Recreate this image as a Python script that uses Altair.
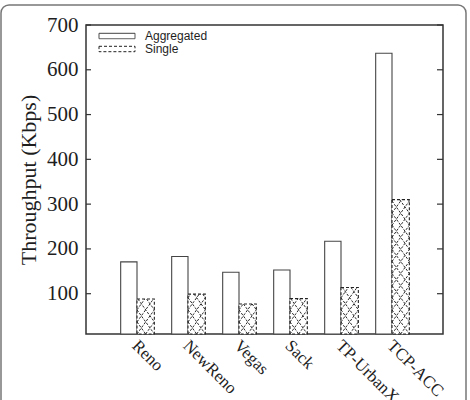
import json
import math
import altair as alt
import pandas as pd

# ---------------- data ----------------
categories = ["Reno", "NewReno", "Vegas", "Sack", "TP-UrbanX", "TCP-ACC"]
aggregated = [171, 183, 148, 153, 217, 637]
single = [88, 99, 77, 89, 114, 310]
series_names = ["Aggregated", "Single"]
y_ticks = [100, 200, 300, 400, 500, 600, 700]

# ---------------- layout constants ----------------
Y_MIN, Y_MAX = 10, 700
PLOT_W, PLOT_H = 357, 309
AGG_W, SGL_W = 0.32, 0.34
HATCH_H = 27.0  # y units per hatch cell

SERIF = "Liberation Serif"
SANS = "Liberation Sans"
INK = "#1e1e1e"

# bar table (derived)
rows = []
for i, c in enumerate(categories):
    pos = i + 1
    rows.append(dict(cat=c, series="Aggregated", x0=pos - AGG_W, x1=pos, y0=Y_MIN, y1=aggregated[i]))
    rows.append(dict(cat=c, series="Single", x0=pos, x1=pos + SGL_W, y0=Y_MIN, y1=single[i]))
bars = pd.DataFrame(rows)

# crosshatch segments for the "Single" bars (derived from the values)
segs = []
cell_w = SGL_W / 2
m = HATCH_H / cell_w
for i, v in enumerate(single):
    x0 = i + 1
    Hb = v - Y_MIN
    n = int(math.ceil(Hb / HATCH_H))
    for k in range(-4, n + 5):
        lo = max(0.0, (-k * HATCH_H) / m)
        hi = min(SGL_W, (Hb - k * HATCH_H) / m)
        if hi - lo > 1e-6:
            segs.append(dict(xa=x0 + lo, ya=Y_MIN + k * HATCH_H + m * lo,
                             xb=x0 + hi, yb=Y_MIN + k * HATCH_H + m * hi))
        lo = max(0.0, (k * HATCH_H - Hb) / m)
        hi = min(SGL_W, (k * HATCH_H) / m)
        if hi - lo > 1e-6:
            segs.append(dict(xa=x0 + lo, ya=Y_MIN + k * HATCH_H - m * lo,
                             xb=x0 + hi, yb=Y_MIN + k * HATCH_H - m * hi))
hatch = pd.DataFrame(segs)

ticks_df = pd.DataFrame({"t": y_ticks})

label_expr = "%s[datum.value - 1]" % json.dumps(categories)

x_scale = alt.Scale(domain=[0, len(categories) + 1], nice=False, zero=False)
y_scale = alt.Scale(domain=[Y_MIN, Y_MAX], nice=False, zero=False)

x_axis = alt.Axis(
    values=list(range(1, len(categories) + 1)), labelExpr=label_expr,
    labelAngle=45, labelAlign="left", labelBaseline="top",
    labelFont=SERIF, labelFontSize=17, labelColor=INK, labelPadding=3, labelOffset=3,
    labelFlush=False, labelOverlap=False,
    ticks=False, domain=False, grid=False, title=None,
)
y_axis = alt.Axis(
    values=y_ticks, labelFont=SERIF, labelFontSize=21, labelColor=INK,
    labelPadding=8, labelFlush=False, ticks=False, tickSize=0, domain=False, grid=False,
    title="Throughput (Kbps)", titleFont=SERIF, titleFontSize=22,
    titleFontWeight="normal", titleColor=INK, titlePadding=6,
)

legend = alt.Legend(
    title=None, orient="none", legendX=25, legendY=5,
    symbolType="M-6,-0.9H6V0.9H-6Z", symbolSize=36,
    symbolStrokeWidth=1, symbolFillColor="white",
    labelFont=SANS, labelFontSize=12, labelColor=INK, labelOffset=22,
    rowPadding=1, padding=0,
)

frame = alt.Chart(pd.DataFrame({"a": [0]})).mark_rect(
    fillOpacity=0, stroke="#777777", strokeWidth=1.5, cornerRadius=8
).encode(x=alt.value(-85), x2=alt.value(380), y=alt.value(-20), y2=alt.value(392))

bar_layer = alt.Chart(bars).mark_bar(fill="white", strokeWidth=1.1).encode(
    x=alt.X("x0:Q", scale=x_scale, axis=x_axis),
    x2="x1:Q",
    y=alt.Y("y0:Q", scale=y_scale, axis=y_axis),
    y2="y1:Q",
    stroke=alt.Stroke("series:N",
                      scale=alt.Scale(domain=series_names, range=["#444444", "#222222"]),
                      legend=legend),
    strokeDash=alt.StrokeDash("series:N",
                              scale=alt.Scale(domain=series_names, range=[[1, 0], [3, 2]]),
                              legend=legend),
)

hatch_layer = alt.Chart(hatch).mark_rule(stroke="#2a2a2a", strokeWidth=1, strokeDash=[2.5, 1.5]).encode(
    x=alt.X("xa:Q", scale=x_scale), x2="xb:Q",
    y=alt.Y("ya:Q", scale=y_scale), y2="yb:Q",
)

tick_left = alt.Chart(ticks_df).mark_rule(stroke="#333333", strokeWidth=1.2).encode(
    y=alt.Y("t:Q", scale=y_scale), x=alt.value(0), x2=alt.value(5)
)
tick_right = alt.Chart(ticks_df).mark_rule(stroke="#333333", strokeWidth=1.2).encode(
    y=alt.Y("t:Q", scale=y_scale), x=alt.value(PLOT_W - 6), x2=alt.value(PLOT_W)
)

chart = alt.layer(frame, bar_layer, hatch_layer, tick_left, tick_right).properties(
    width=PLOT_W, height=PLOT_H,
    padding={"left": 0, "top": 4, "right": 0, "bottom": 0},
    background="white",
).configure_view(stroke="#333333", strokeWidth=1.5)

chart.save("out.html", embed_options={"renderer": "svg", "actions": False})
